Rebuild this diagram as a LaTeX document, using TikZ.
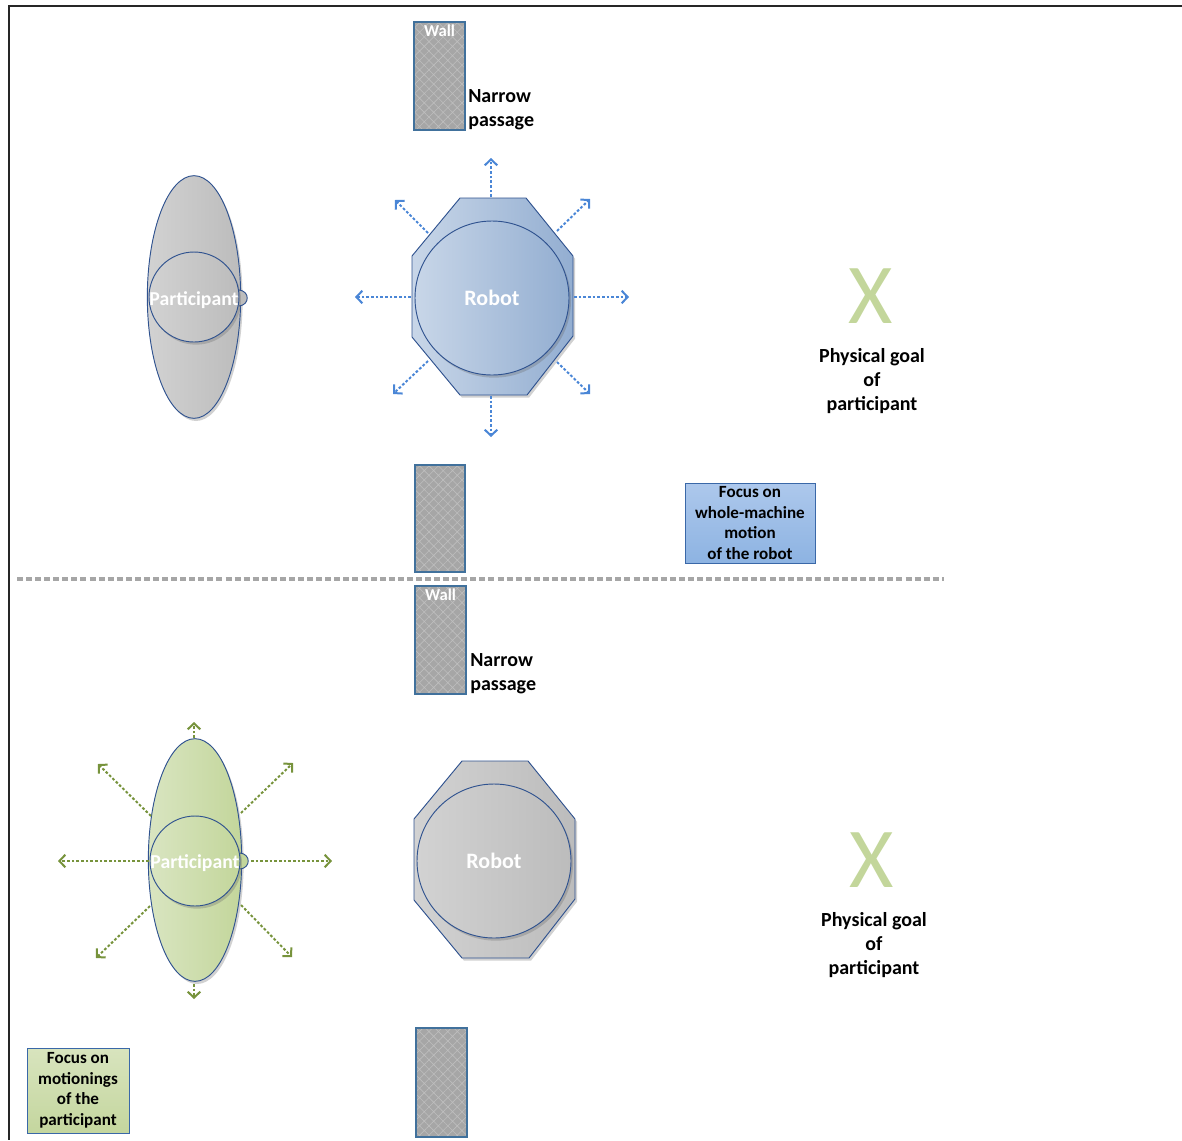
\documentclass[tikz,border=0pt]{standalone}
\usepackage{fontspec}
\setmainfont{Carlito}
\usetikzlibrary{arrows.meta,patterns.meta,shadows,shapes.geometric}

\definecolor{wallgray}{HTML}{A6A6A6}
\definecolor{walllt}{HTML}{BEBEBE}
\definecolor{edgeblue}{HTML}{2F528F}
\definecolor{wallbd}{HTML}{41719C}
\definecolor{robL}{HTML}{C8D6E8}
\definecolor{robR}{HTML}{93AED1}
\definecolor{greyL}{HTML}{D2D2D2}
\definecolor{greyR}{HTML}{BCBCBC}
\definecolor{grnL}{HTML}{D9E5C1}
\definecolor{grnR}{HTML}{C3D69B}
\definecolor{arrblue}{HTML}{4A86D6}
\definecolor{arrgreen}{HTML}{77933C}
\definecolor{goalgreen}{HTML}{C3D69B}
\definecolor{boxblueT}{HTML}{ADC8EC}
\definecolor{boxblueB}{HTML}{8DB3E2}
\definecolor{boxbd}{HTML}{3A68A8}
\definecolor{boxgrnT}{HTML}{D8E4BE}
\definecolor{boxgrnB}{HTML}{C4D69E}
\definecolor{sepgray}{HTML}{A6A6A6}

\begin{document}
\begin{tikzpicture}[x=0.75pt,y=-0.75pt,
  wall/.style={draw=wallbd, line width=0.8pt, preaction={fill=wallgray},
    pattern={Hatch[angle=45,distance=5pt,line width=0.45pt]}, pattern color=walllt,
    inner sep=0pt, rectangle},
  walltxt/.style={text=white, font=\bfseries\fontsize{12.5}{14}\selectfont, inner sep=2pt, anchor=north},
  lbl/.style={font=\bfseries\fontsize{15}{18}\selectfont, inner sep=0pt},
  whitelbl/.style={text=white, font=\bfseries\fontsize{14.8}{18}\selectfont, inner sep=0pt},
  robotlbl/.style={text=white, font=\bfseries\fontsize{16.5}{20}\selectfont, inner sep=0pt},
  outline/.style={draw=edgeblue, line width=0.7pt},
  softshadow/.style={drop shadow={shadow xshift=1.5pt, shadow yshift=-2pt, opacity=.3, fill=black!60}},
  body/.style={outline, ellipse, inner sep=0pt, minimum width=70pt, minimum height=182pt, softshadow},
  head/.style={outline, circle, inner sep=0pt, minimum size=67.5pt, softshadow},
  robcirc/.style={outline, circle, inner sep=0pt, minimum size=115.5pt, softshadow},
  octa/.style={outline, softshadow},
  move/.style={line width=1.5pt, dash pattern=on 2pt off 1.5pt,
    -{Straight Barb[length=4.5pt,width=9.5pt,line width=1.5pt]}},
  mblue/.style={move, draw=arrblue},
  mgreen/.style={move, draw=arrgreen},
  goal/.style={text=goalgreen, font=\fontsize{64}{64}\selectfont, inner sep=0pt},
  focus/.style={draw=boxbd, line width=0.7pt, font=\bfseries\fontsize{12.8}{15.4}\selectfont,
    align=center, inner sep=0pt}
]
\useasboundingbox (0,0) rectangle (1182,1140);

% frame lines
\draw[line width=1.1pt, black!85] (1182,6) -- (9,6) -- (9,1140);

% ===================== upper scene: robot moves =====================
\node[wall, minimum width=38.25pt, minimum height=81pt] (wallA) at (439.5,76) {};
\node[walltxt] (wallAt) at (wallA.north) {Wall};
\node[wall, minimum width=37.5pt, minimum height=80.25pt] (wallB) at (440,518.5) {};
\node[lbl, anchor=west, align=left] (passA) at (468,110) {Narrow\\passage};

% participant
\node[body, left color=greyL, right color=greyR] (bodyA) at (194,297) {};
\draw[outline, fill=greyR] (239,290) .. controls (250,291) and (250,305) .. (239,306);
\node[head, left color=greyL, right color=greyR] (headA) at (194,297) {};
\node[whitelbl] (partA) at (194,300) {Participant};

% robot
\path[octa, left color=robL, right color=robR]
  (460,198) -- (526,198) -- (573,256) -- (573,336) -- (527,395) -- (460,395) -- (412,337) -- (412,256) -- cycle;
\node[robcirc, left color=robL, right color=robR] (robA) at (492,298) {};
\node[robotlbl] (robAt) at (492,298) {Robot};

\coordinate (rAn) at (491,197);  \coordinate (rAnE) at (491,158);
\coordinate (rAs) at (491,396);  \coordinate (rAsE) at (491,437);
\coordinate (rAw) at (411,297);  \coordinate (rAwE) at (355,297);
\coordinate (rAe) at (574,297);  \coordinate (rAeE) at (629,297);
\coordinate (rAne) at (557,231); \coordinate (rAneE) at (590,199);
\coordinate (rAnw) at (428,233); \coordinate (rAnwE) at (395,200);
\coordinate (rAsw) at (428,361); \coordinate (rAswE) at (393,394);
\coordinate (rAse) at (557,362); \coordinate (rAseE) at (590,394);
\foreach \s in {n,s,w,e,ne,nw,sw,se}
  \draw[mblue] (rA\s) -- (rA\s E);

% goal
\node[goal] (goalA) at (871,296) {X};
\node[lbl, align=center] (goalAt) at (872,381) {Physical goal\\of\\participant};

% focus box
\node[focus, top color=boxblueT, bottom color=boxblueB, minimum width=97.5pt, minimum height=60pt]
  (focA) at (750,523) {Focus on\\whole-machine\\motion\\of the robot};

% separator
\coordinate (sepL) at (17,579);
\coordinate (sepR) at (944,579);
\draw[sepgray, line width=2.3pt, dash pattern=on 4.5pt off 2.3pt] (sepL) -- (sepR);

% ===================== lower scene: participant moves =====================
\node[wall, minimum width=38.25pt, minimum height=81pt] (wallC) at (440.5,640) {};
\node[walltxt] (wallCt) at (wallC.north) {Wall};
\node[wall, minimum width=38.25pt, minimum height=81.75pt] (wallD) at (441.5,1082.5) {};
\node[lbl, anchor=west, align=left] (passC) at (470,674) {Narrow\\passage};

% participant
\node[body, left color=grnL, right color=grnR] (bodyC) at (195,860) {};
\draw[outline, fill=grnR] (240,853) .. controls (251,854) and (251,868) .. (240,869);
\node[head, left color=grnL, right color=grnR] (headC) at (195,861) {};
\node[whitelbl] (partC) at (195,863) {Participant};

\coordinate (pCn) at (194,738);  \coordinate (pCnE) at (194,722);
\coordinate (pCs) at (194,984);  \coordinate (pCsE) at (194,999);
\coordinate (pCw) at (149,861);  \coordinate (pCwE) at (58,861);
\coordinate (pCe) at (251,861);  \coordinate (pCeE) at (332,861);
\coordinate (pCnw) at (151,816); \coordinate (pCnwE) at (98,764);
\coordinate (pCne) at (241,813); \coordinate (pCneE) at (293,763);
\coordinate (pCsw) at (150,906); \coordinate (pCswE) at (96,958);
\coordinate (pCse) at (241,905); \coordinate (pCseE) at (292,957);
\foreach \s in {n,s,w,e,ne,nw,sw,se}
  \draw[mgreen] (pC\s) -- (pC\s E);

% robot
\path[octa, left color=greyL, right color=greyR]
  (462,761) -- (528,761) -- (575,819) -- (575,899) -- (529,958) -- (462,958) -- (414,900) -- (414,819) -- cycle;
\node[robcirc, left color=greyL, right color=greyR] (robC) at (494,861) {};
\node[robotlbl] (robCt) at (494,861) {Robot};

% goal
\node[goal] (goalC) at (872,860) {X};
\node[lbl, align=center] (goalCt) at (874,945) {Physical goal\\of\\participant};

% focus box
\node[focus, top color=boxgrnT, bottom color=boxgrnB, minimum width=76.5pt, minimum height=63.75pt]
  (focC) at (78,1090.5) {Focus on\\motionings\\of the\\participant};

\end{tikzpicture}
\end{document}
